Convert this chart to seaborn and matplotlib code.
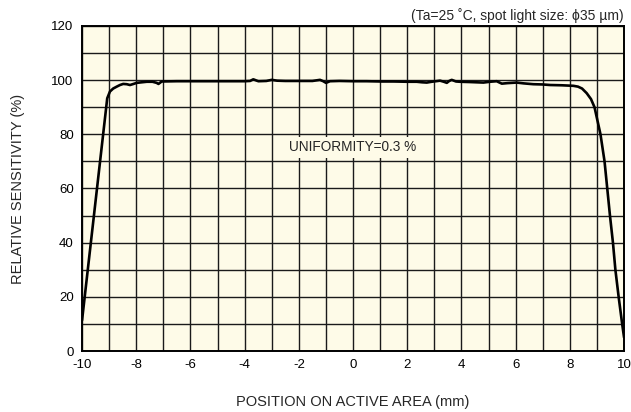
import numpy as np
import pandas as pd
import matplotlib

matplotlib.use("Agg")
import matplotlib.pyplot as plt
import seaborn as sns
from matplotlib.ticker import MultipleLocator

# values
position = [
    -10, -9.07, -8.97, -8.85, -8.72, -8.6, -8.48, -8.35, -8.23, -8.1,
    -7.98, -7.8, -7.61, -7.4, -7.25, -7.18, -7.06, -6.5, -6, -5,
    -4.5, -4, -3.8, -3.68, -3.55, -3.49, -3.2, -3.0, -2.8, -2.5,
    -2, -1.5, -1.22, -1.1, -1.0, -0.85, -0.5, 0, 0.5, 1,
    1.5, 2, 2.35, 2.55, 2.72, 2.9, 3.21, 3.35, 3.46, 3.55,
    3.64, 3.8, 3.95, 4.3, 4.81, 5.05, 5.3, 5.49, 5.7, 6.04,
    6.3, 6.65, 7.0, 7.27, 7.7, 8.13, 8.3, 8.45, 8.62, 8.78,
    8.91, 9.13, 9.28, 9.38, 9.48, 9.59, 9.68, 9.8, 9.93, 10.0,
]
sensitivity = [
    11.3, 93.3, 95.8, 96.9, 97.6, 98.2, 98.6, 98.5, 98.2, 98.6,
    99.0, 99.2, 99.4, 99.4, 99.0, 98.6, 99.5, 99.6, 99.6, 99.6,
    99.6, 99.6, 99.7, 100.3, 99.8, 99.6, 99.7, 100.1, 99.8, 99.7,
    99.7, 99.7, 100.1, 99.6, 99.0, 99.6, 99.7, 99.6, 99.6, 99.5,
    99.5, 99.4, 99.4, 99.2, 99.1, 99.4, 99.8, 99.4, 99.0, 99.7,
    100.1, 99.5, 99.4, 99.3, 99.1, 99.4, 99.6, 98.7, 98.9, 99.1,
    98.8, 98.5, 98.4, 98.2, 98.1, 97.9, 97.6, 96.9, 95.2, 93.0,
    90.0, 80.0, 70.0, 60.0, 50.0, 40.0, 30.0, 20.0, 10.0, 5.0,
]

df = pd.DataFrame({"pos": position, "sens": sensitivity})

bg = "#FEFBE8"

sns.set_theme(style="ticks")
plt.rcParams["font.family"] = ["Liberation Sans", "DejaVu Sans"]
plt.rcParams["axes.unicode_minus"] = False

fig, ax = plt.subplots(figsize=(6.31, 4.12), dpi=100)
fig.subplots_adjust(left=0.130, right=0.989, top=0.937, bottom=0.148)
ax.set_facecolor(bg)

sns.lineplot(
    data=df, x="pos", y="sens", color="black", linewidth=1.9,
    sort=False, estimator=None, ax=ax, zorder=3,
)

ax.set_xlim(-10, 10)
ax.set_ylim(0, 120)
ax.xaxis.set_major_locator(MultipleLocator(2))
ax.xaxis.set_minor_locator(MultipleLocator(1))
ax.yaxis.set_major_locator(MultipleLocator(20))
ax.yaxis.set_minor_locator(MultipleLocator(10))
ax.grid(which="both", color="#1a1a1a", linewidth=1.0)
ax.set_axisbelow(True)
ax.tick_params(which="both", length=0, labelsize=9.5, colors="black", pad=6)

for s in ax.spines.values():
    s.set_linewidth(1.4)
    s.set_color("black")
    s.set_zorder(4)

ax.set_xlabel("POSITION ON ACTIVE AREA (mm)", fontsize=10.5, labelpad=17)
ax.set_ylabel("RELATIVE SENSITIVITY (%)", fontsize=10.5, labelpad=19)
ax.set_title("(Ta=25 ˚C, spot light size: ϕ35 µm)", loc="right", fontsize=10, pad=4)

# label sits on a patch that hides the grid behind it
ax.text(
    0, 75.3, "UNIFORMITY=0.3 %", ha="center", va="center", fontsize=9.8,
    zorder=2.5,
    bbox=dict(facecolor=bg, edgecolor="none", pad=2.5),
)

plt.savefig("out.png", dpi=100)
